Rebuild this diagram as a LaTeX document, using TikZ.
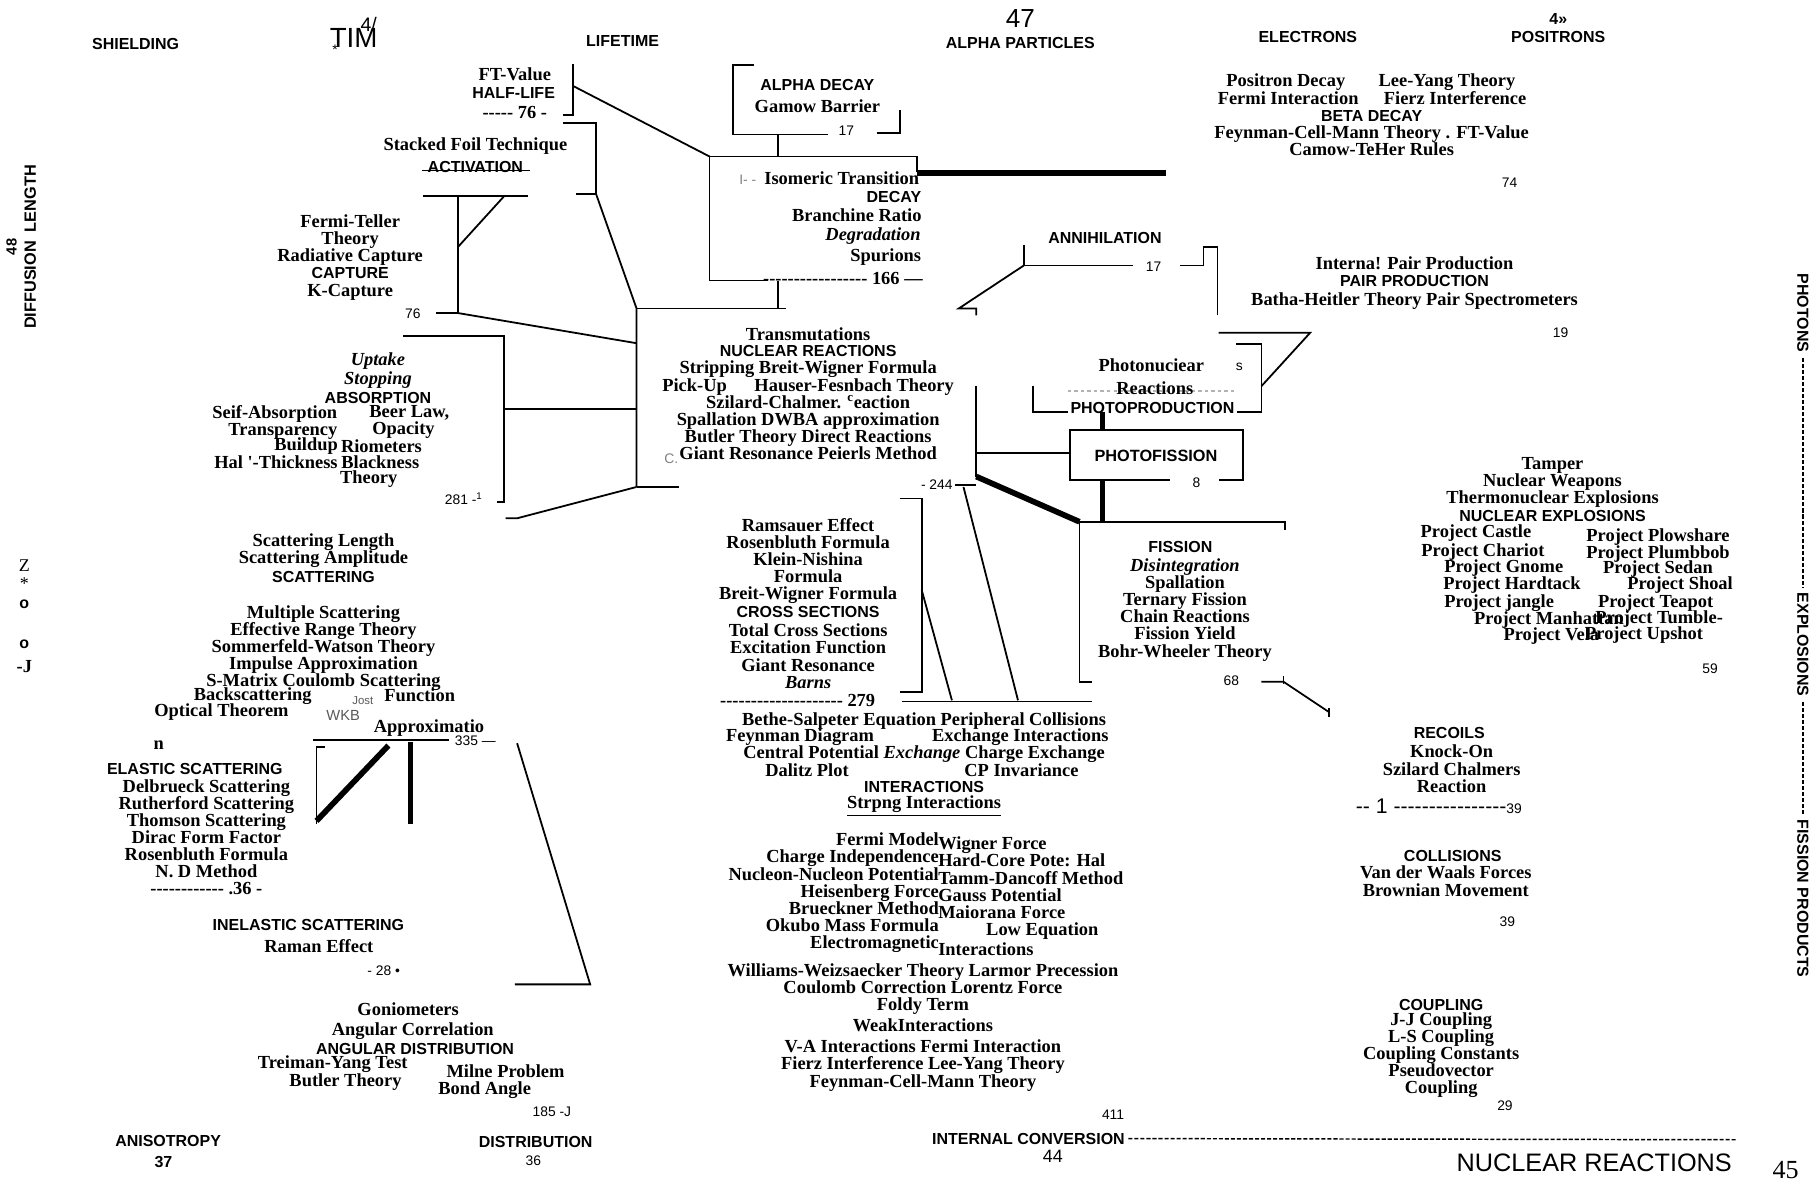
\documentclass[tikz,border=0pt]{standalone}
\usepackage{fontspec}
\setmainfont{Liberation Serif}[Ligatures=TeXOff]
\newfontfamily\arialfont{Liberation Sans}[Ligatures=TeXOff]
\usepackage{tikz}
\usetikzlibrary{positioning,calc}

\newcommand{\trmfont}{\fontsize{11.3}{10.5}\selectfont\bfseries}
\newcommand{\hdgfont}{\arialfont\fontsize{9.8}{10.5}\selectfont\bfseries}
\newcommand{\pgnfont}{\arialfont\fontsize{8.5}{10}\selectfont}

\begin{document}
\begin{tikzpicture}[
		x=0.025cm, y=-0.025cm,
		trm/.style={font=\trmfont, align=center, inner sep=0pt},
		hdg/.style={font=\hdgfont, inner sep=0pt},
		pgn/.style={font=\pgnfont, inner sep=0pt},
		brk/.style={line width=1.1pt},
		fat/.style={line width=3.5pt},
		dsh/.style={line width=0.9pt, dash pattern=on 2.5pt off 1.2pt},
	]
	\useasboundingbox (0,0) rectangle (1568,1021);

	% top row
	\node[hdg] (shield) at (117,38) {SHIELDING};
	\node[font=\arialfont\fontsize{17}{17}\selectfont, inner sep=0pt] (tim) at (305,33) {TIM};
	\node[font=\arialfont\fontsize{12}{12}\selectfont, inner sep=0pt] (timfour) at (318,21) {4/};
	\node[pgn] (timstar) at (289,43) {*};
	\node[hdg] (life) at (537,35) {LIFETIME};
	\node[font=\arialfont\fontsize{16}{16}\selectfont, inner sep=0pt] (top47) at (880,16) {47};
	\node[hdg] (alpha) at (880,37) {ALPHA PARTICLES};
	\node[hdg] (elec) at (1128,32) {ELECTRONS};
	\node[hdg] (top4) at (1344,16) {4»};
	\node[hdg] (posi) at (1344,32) {POSITRONS};

	% side labels
	\node[font=\arialfont\fontsize{10}{10}\selectfont\bfseries, inner sep=0pt, rotate=90] (diffl) at (26,213) {DIFFUSION\ \ LENGTH};
	\node[font=\arialfont\fontsize{9}{9}\selectfont\bfseries, inner sep=0pt, rotate=90] (d48) at (10,213) {48};
	\node[font=\fontsize{11}{11}\selectfont, inner sep=0pt] (zz) at (21,488) {Z};
	\node[font=\fontsize{11}{11}\selectfont, inner sep=0pt] (zstar) at (21,503) {*};
	\node[hdg] (zo1) at (21,521) {o};
	\node[hdg] (zo2) at (21,556) {o};
	\node[trm] (zj) at (21,575) {-J};
	\node[hdg, rotate=-90] (photons) at (1555,270) {PHOTONS};
	\node[hdg, rotate=-90] (explos) at (1555,556) {EXPLOSIONS};
	\node[hdg, rotate=-90] (fisprod) at (1555,775) {FISSION PRODUCTS};
	\draw[dsh, shorten <=3pt, shorten >=3pt] (photons.east) -- (explos.west);
	\draw[dsh, shorten <=3pt, shorten >=3pt] (explos.east) -- (fisprod.west);

	% left column
	\node[trm] (ftval) at (444,64) {FT-Value};
	\node[hdg] (halflife) at (443,80) {HALF-LIFE};
	\node[trm] (hl76) at (444,97) {----- 76 -};
	\node[trm] (stacked) at (410,126) {Stacked Foil Technique};
	\node[hdg] (activ) at (410,144) {ACTIVATION};
	\node[trm] (capture) at (302,222) {Fermi-Teller\\Theory\\Radiative Capture\\{\hdgfont CAPTURE}\\K-Capture};
	\node[pgn] (n76) at (356,271) {76};
	\node[trm] (uptake) at (326,311) {\textit{Uptake}};
	\node[trm] (stopping) at (326,328) {\textit{Stopping}};
	\node[hdg] (absorp) at (326,343) {ABSORPTION};
	\node[trm] (seif) at (237,357) {Seif-Absorption};
	\node[trm] (transp) at (244,372) {Transparency};
	\node[trm] (buildup) at (264,385) {Buildup};
	\node[trm] (halft) at (238,399) {Hal '-Thickness};
	\node[trm] (beer) at (353,356) {Beer Law,};
	\node[trm] (opac) at (348,371) {Opacity};
	\node[trm] (riom) at (329,385) {Riometers};
	\node[trm] (black) at (328,399) {Blackness};
	\node[trm] (btheory) at (318,413) {Theory};
	\node[pgn] (n281) at (400,430) {281 -\textsuperscript{1}};

	\node[trm] (scatlen) at (279,475) {Scattering Length\\Scattering Amplitude};
	\node[hdg] (scat) at (279,498) {SCATTERING};
	\node[trm] (multi) at (279,559) {Multiple Scattering\\Effective Range Theory\\Sommerfeld-Watson Theory\\Impulse Approximation\\S-Matrix Coulomb Scattering};
	\node[trm] (backsc) at (218,600) {Backscattering};
	\node[trm] (func) at (362,600) {Function};
	\node[trm] (optic) at (191,614) {Optical Theorem};
	\node[font=\arialfont\fontsize{7}{7}\selectfont, inner sep=0pt, gray!70!black] (jost) at (313,604) {Jost};
	\node[font=\arialfont\fontsize{9}{9}\selectfont, inner sep=0pt, gray!70!black] (wkb) at (296,617) {WKB};
	\node[trm] (approx) at (370,628) {Approximatio};
	\node[pgn] (n335) at (410,639) {335 —};
	\node[trm] (nn) at (137,643) {n};
	\node[hdg] (elastic) at (168,663) {ELASTIC SCATTERING};
	\node[trm] (elist) at (178,722) {Delbrueck Scattering\\Rutherford Scattering\\Thomson Scattering\\Dirac Form Factor\\Rosenbluth Formula\\N. D Method\\------------ .36 -};
	\node[hdg] (inel) at (266,798) {INELASTIC SCATTERING};
	\node[trm] (raman) at (275,816) {Raman Effect};
	\node[pgn] (n28) at (331,837) {- 28 •};
	\node[trm] (gonio) at (352,870) {Goniometers};
	\node[trm] (angcor) at (356,889) {Angular Correlation};
	\node[hdg] (angd) at (358,905) {ANGULAR DISTRIBUTION};
	\node[trm] (treim) at (287,918) {Treiman-Yang Test};
	\node[trm] (butler) at (298,933) {Butler Theory};
	\node[trm] (milne) at (436,924) {Milne Problem};
	\node[trm] (bond) at (418,940) {Bond Angle};
	\node[pgn] (n185) at (476,959) {185 -J};
	\node[hdg] (aniso) at (145,984) {ANISOTROPY};
	\node[hdg] (a37) at (141,1002) {37};
	\node[hdg] (distr) at (462,985) {DISTRIBUTION};
	\node[pgn] (d36) at (460,1001) {36};

	% centre column
	\node[hdg] (alphadec) at (705,73) {ALPHA DECAY};
	\node[trm] (gamow) at (705,92) {Gamow Barrier};
	\node[pgn] (n17a) at (730,113) {17};
	\node[pgn, gray] (imark) at (645,155) {I- -};
	\node[trm] (isom) at (726,154) {Isomeric Transition};
	\node[hdg] (decay) at (771,170) {DECAY};
	\node[trm] (branch) at (739,186) {Branchine Ratio};
	\node[trm] (degr) at (753,204) {\textit{Degradation}};
	\node[trm] (spur) at (764,222) {Spurions};
	\node[trm] (n166) at (727,240) {----------------- 166 —};
	\node[trm] (transm) at (697,288) {Transmutations};
	\node[hdg] (nucr) at (697,303) {NUCLEAR REACTIONS};
	\node[trm] (nrlist) at (697,354) {Stripping Breit-Wigner Formula\\Pick-Up\hspace{1.5em}Hauser-Fesnbach Theory\\Szilard-Chalmer. \textsuperscript{c}eaction\\Spallation DWBA approximation\\Butler Theory Direct Reactions\\Giant Resonance Peierls Method};
	\node[pgn, gray] (cmark) at (579,396) {C.};
	\node[pgn] (n244) at (808,418) {- 244};
	\node[trm] (cslist) at (697,484) {Ramsauer Effect\\Rosenbluth Formula\\Klein-Nishina\\Formula\\Breit-Wigner Formula};
	\node[hdg] (cross) at (697,528) {CROSS SECTIONS};
	\node[trm] (cslower) at (697,566) {Total Cross Sections\\Excitation Function\\Giant Resonance\\\textit{Barns}};
	\node[trm] (n279) at (688,604) {-------------------- 279};
	\node[trm] (bethe) at (797,622) {Bethe-Salpeter Equation Peripheral Collisions};
	\node[trm] (feyn) at (690,636) {Feynman Diagram};
	\node[trm] (exint) at (880,636) {Exchange Interactions};
	\node[trm] (centr) at (797,650) {Central Potential \textit{Exchange} Charge Exchange};
	\node[trm] (dalitz) at (696,664) {Dalitz Plot};
	\node[trm] (cpinv) at (881,664) {CP Invariance};
	\node[hdg] (inter) at (797,679) {INTERACTIONS};
	\node[trm] (strong) at (797,695) {\underline{Strpng Interactions}};
	\node[trm, align=right, anchor=east] (forcl) at (810,770) {Fermi Model\\Charge Independence\\Nucleon-Nucleon Potential\\Heisenberg Force\\Brueckner Method\\Okubo Mass Formula\\Electromagnetic};
	\node[trm, align=left, anchor=west] (forcr) at (809,766) {Wigner Force\\Hard-Core Pote: Hal\\Tamm-Dancoff Method\\Gauss Potential\\Maiorana Force\\\hspace{2.6em}Low Equation};
	\node[trm, anchor=west] (interx) at (809,819) {Interactions};
	\node[trm] (ww) at (796,853) {Williams-Weizsaecker Theory Larmor Precession\\Coulomb Correction Lorentz Force\\Foldy Term};
	\node[trm] (weak) at (796,884) {WeakInteractions};
	\node[trm] (va) at (796,919) {V-A Interactions Fermi Interaction\\Fierz Interference Lee-Yang Theory\\Feynman-Cell-Mann Theory};
	\node[pgn] (n411) at (960,961) {411};
	\node[hdg] (intconv) at (887,982) {INTERNAL CONVERSION};
	\node[font=\arialfont\fontsize{11}{11}\selectfont, inner sep=0pt] (c44) at (908,997) {44};
	\coordinate (convend) at (1498,983);
	\draw[dsh] ([xshift=2pt]intconv.east) -- (convend);

	% photons and fission
	\node[hdg] (annih) at (953,205) {ANNIHILATION};
	\node[pgn] (n17b) at (995,230) {17};
	\node[trm] (photonuc) at (993,315) {Photonuciear};
	\node[pgn] (sfrag) at (1069,316) {s};
	\draw[gray!60, line width=1.5pt, dash pattern=on 2pt off 2pt] (921,337) -- (1065,337);
	\node[trm] (reac) at (996,335) {Reactions};
	\node[hdg] (photop) at (994,352) {PHOTOPRODUCTION};
	\node[font=\arialfont\fontsize{10}{10}\selectfont\bfseries, inner sep=0pt] (photofis) at (997,393) {PHOTOFISSION};
	\node[pgn] (n8) at (1032,416) {8};
	\node[hdg] (fission) at (1018,472) {FISSION};
	\node[trm] (fislist) at (1022,526) {\textit{Disintegration}\\Spallation\\Ternary Fission\\Chain Reactions\\Fission Yield\\Bohr-Wheeler Theory};
	\node[pgn] (n68) at (1062,587) {68};

	% right column
	\node[trm] (posdec) at (1109,71) {Positron Decay};
	\node[trm] (leeyang) at (1248,71) {Lee-Yang Theory};
	\node[trm] (fermint) at (1111,85) {Fermi Interaction};
	\node[trm] (fierz) at (1255,85) {Fierz Interference};
	\node[hdg] (beta) at (1183,100) {BETA DECAY};
	\node[trm] (feyncell) at (1183,121) {Feynman-Cell-Mann Theory . FT-Value\\Camow-TeHer Rules};
	\node[pgn] (n74) at (1302,158) {74};
	\node[trm] (intpair) at (1220,227) {Interna! Pair Production};
	\node[hdg] (pair) at (1220,242) {PAIR PRODUCTION};
	\node[trm] (batha) at (1220,260) {Batha-Heitler Theory Pair Spectrometers};
	\node[pgn] (n19) at (1346,287) {19};
	\node[trm] (tamper) at (1339,416) {Tamper\\Nuclear Weapons\\Thermonuclear Explosions};
	\node[hdg] (nucexp) at (1339,445) {NUCLEAR EXPLOSIONS};
	\node[trm] (pcastle) at (1273,460) {Project Castle};
	\node[trm] (pchariot) at (1279,476) {Project Chariot};
	\node[trm] (pgnome) at (1297,490) {Project Gnome};
	\node[trm] (phard) at (1304,505) {Project Hardtack};
	\node[trm] (pjangle) at (1293,520) {Project jangle};
	\node[trm] (pmanh) at (1336,535) {Project Manhattan};
	\node[trm] (pvela) at (1338,549) {Project Vela};
	\node[trm] (pplow) at (1430,463) {Project Plowshare};
	\node[trm] (pplumb) at (1430,478) {Project Plumbbob};
	\node[trm] (psedan) at (1430,491) {Project Sedan};
	\node[trm] (pshoal) at (1449,505) {Project Shoal};
	\node[trm] (pteapot) at (1428,520) {Project Teapot};
	\node[trm] (ptumble) at (1431,534) {Project Tumble-};
	\node[trm] (pupshot) at (1418,548) {Project Upshot};
	\node[pgn] (n59) at (1475,577) {59};
	\node[hdg] (recoils) at (1250,632) {RECOILS};
	\node[trm] (knock) at (1252,663) {Knock-On\\Szilard Chalmers\\Reaction};
	\node[font=\arialfont\fontsize{13}{13}\selectfont, inner sep=0pt] (recline) at (1241,695) {-- 1 ----------------{\pgnfont 39}};
	\node[hdg] (collis) at (1253,738) {COLLISIONS};
	\node[trm] (vdw) at (1247,760) {Van der Waals Forces\\Brownian Movement};
	\node[pgn] (n39) at (1300,795) {39};
	\node[hdg] (coupl) at (1243,867) {COUPLING};
	\node[trm] (jj) at (1243,910) {J-J Coupling\\L-S Coupling\\Coupling Constants\\Pseudovector\\Coupling};
	\node[pgn] (n29) at (1298,954) {29};
	\node[font=\arialfont\fontsize{15.5}{15.5}\selectfont, inner sep=0pt] (nucreac) at (1375,1003) {NUCLEAR REACTIONS};
	\node[font=\fontsize{16}{16}\selectfont, inner sep=0pt] (p45) at (1540,1009) {45};

	% brackets, left half
	\draw[brk] (486,99) -- (494,99) -- (494,55);
	\draw[brk] (494,74) -- (612,135);
	\draw[brk] (486,106) -- (514,106) -- (514,167) -- (497,167);
	\draw[line width=0.4pt] (364,147) -- (457,147);
	\draw[brk] (365,169) -- (455,169);
	\draw[brk] (435,169) -- (395,213);
	\draw[brk] (395,169) -- (395,270) -- (376,270);
	\draw[brk] (395,270) -- (549,296);
	\draw[brk] (514,167) -- (549,266) -- (549,420);
	\draw[brk] (549,266) -- (678,266);
	\draw[brk] (348,290) -- (435,290) -- (435,433) -- (429,433);
	\draw[brk] (435,353) -- (549,353);
	\draw[brk] (549,420) -- (586,420);
	\draw[brk] (549,420) -- (446,447) -- (436,447);
	\draw[brk] (270,638) -- (387,638);
	\draw[brk] (280,644) -- (273,644) -- (273,711);
	\draw[fat] (335,643) -- (273,708);
	\draw[fat] (354,640) -- (354,711);
	\draw[brk] (446,641) -- (509,849) -- (444,849);

	% decay boxes
	\draw[brk] (671,266) -- (671,242);
	\draw[brk] (662,242) -- (612,242) -- (612,135) -- (791,135) -- (791,148);
	\draw[fat] (791,149) -- (1006,149);
	\draw[brk] (671,135) -- (671,116);
	\draw[brk] (650,56) -- (632,56) -- (632,116) -- (714,116);
	\draw[brk] (756,115) -- (776,115) -- (776,95);

	% annihilation, photoproduction, photofission
	\draw[brk] (883,211) -- (883,229) -- (977,229);
	\draw[brk] (1018,229) -- (1038,229) -- (1038,213) -- (1050,213) -- (1050,272);
	\draw[brk] (883,229) -- (827,266) -- (842,266) -- (842,272);
	\draw[brk] (891,333) -- (891,355) -- (921,355);
	\draw[brk] (1067,355) -- (1088,355) -- (1088,297) -- (1066,297);
	\draw[brk] (1051,287) -- (1130,287) -- (1088,333);
	\draw[brk] (842,333) -- (842,411);
	\draw[brk] (824,418) -- (842,418);
	\draw[brk] (842,391) -- (923,391);
	\draw[brk] (1009,414) -- (923,414) -- (923,371) -- (1072,371) -- (1072,414) -- (1051,414);
	\draw[fat] (951,355) -- (951,371);
	\draw[fat] (951,414) -- (951,450);
	\draw[fat] (842,411) -- (931,450);

	% fission and cross sections
	\draw[brk] (931,450) -- (1108,450) -- (1108,457);
	\draw[brk] (931,450) -- (931,588) -- (942,588);
	\draw[brk] (1088,588) -- (1107,588) -- (1146,614);
	\draw[brk] (1107,583) -- (1107,590);
	\draw[brk] (1146,611) -- (1146,618);
	\draw[brk] (776,430) -- (795,430) -- (795,597) -- (776,597);
	\draw[brk] (795,509) -- (821,604);
	\draw[brk] (831,420) -- (878,604);
	\draw[brk] (778,605) -- (942,605);

\end{tikzpicture}
\end{document}
